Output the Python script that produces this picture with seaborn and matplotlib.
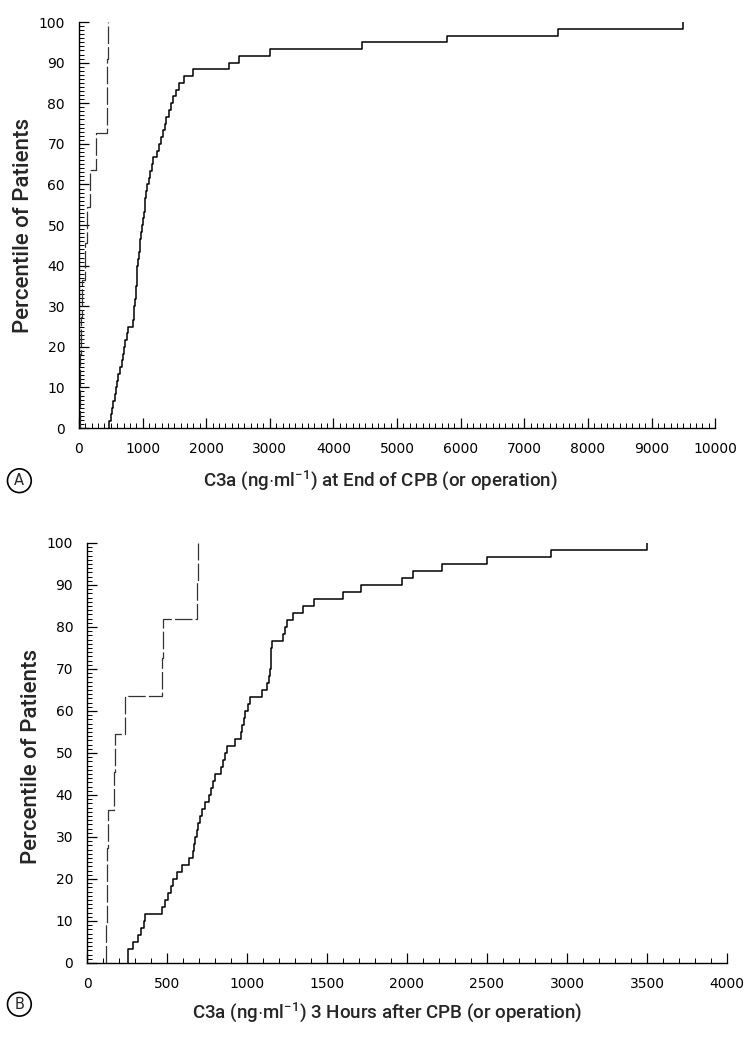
import matplotlib
matplotlib.use("Agg")
import matplotlib.pyplot as plt
from matplotlib.ticker import MultipleLocator
import seaborn as sns

# ---------------- data (C3a, ng/ml, one value per patient) ----------------
# Panel A: at end of CPB (or operation)
a_control = [10, 22, 35, 48, 94, 125, 180, 275, 435, 448, 456]
a_cpb = [470, 500, 520, 540, 560, 575, 600, 620, 645, 670,
         690, 710, 730, 750, 770, 850, 860, 870, 880, 890,
         900, 905, 910, 915, 930, 945, 955, 965, 975, 990,
         1000, 1015, 1030, 1045, 1060, 1075, 1095, 1120, 1150, 1170,
         1220, 1260, 1290, 1320, 1350, 1375, 1410, 1440, 1480, 1520,
         1570, 1650, 1790, 2360, 2520, 3000, 4450, 5790, 7530, 9500]

# Panel B: 3 hours after CPB (or operation)
b_control = [120, 123, 126, 130, 168, 172, 235, 468, 472, 688, 692]
b_cpb = [254, 256, 290, 320, 340, 355, 363, 470, 485, 505,
         525, 540, 565, 595, 640, 660, 670, 678, 685, 695,
         705, 720, 735, 760, 775, 790, 800, 840, 850, 860,
         873, 925, 960, 970, 980, 990, 1005, 1019, 1095, 1123,
         1140, 1145, 1148, 1150, 1152, 1155, 1225, 1240, 1250, 1290,
         1350, 1420, 1600, 1710, 1970, 2040, 2220, 2500, 2900, 3500]

a_xticks = [0, 1000, 2000, 3000, 4000, 5000, 6000, 7000, 8000, 9000, 10000]
b_xticks = [0, 500, 1000, 1500, 2000, 2500, 3000, 3500, 4000]
y_ticks = [0, 10, 20, 30, 40, 50, 60, 70, 80, 90, 100]

ylabel = "Percentile of Patients"
a_xlabel = r"C3a (ng$\cdot$ml$^{-1}$) at End of CPB (or operation)"
b_xlabel = r"C3a (ng$\cdot$ml$^{-1}$) 3 Hours after CPB (or operation)"

# ---------------- style ----------------
sns.set_style("ticks")
plt.rcParams["font.family"] = ["Roboto", "Liberation Sans", "DejaVu Sans"]
plt.rcParams["mathtext.fontset"] = "custom"
plt.rcParams["mathtext.rm"] = "Roboto:medium"
plt.rcParams["mathtext.it"] = "Roboto:italic"
plt.rcParams["mathtext.bf"] = "Roboto:bold"

fig = plt.figure(figsize=(7.45, 10.45), dpi=100)
axA = fig.add_axes([0.106, 0.5904, 0.854, 0.3885])
axB = fig.add_axes([0.1168, 0.0785, 0.859, 0.4019])


def style_axis(ax, xticks, xminor, xmax):
    ax.set_xlim(0, xmax)
    ax.set_ylim(0, 100)
    for s in ["top", "right"]:
        ax.spines[s].set_visible(False)
    for s in ["left", "bottom"]:
        ax.spines[s].set_linewidth(1.0)
        ax.spines[s].set_color("black")
    ax.set_xticks(xticks)
    ax.set_xticklabels([str(t) for t in xticks])
    ax.set_yticks(y_ticks)
    ax.set_yticklabels([str(t) for t in y_ticks])
    ax.xaxis.set_minor_locator(MultipleLocator(xminor))
    ax.yaxis.set_minor_locator(MultipleLocator(1))
    ax.tick_params(which="major", direction="in", length=7, width=0.9,
                   labelsize=10, pad=10, colors="black",
                   labelcolor="black")
    ax.tick_params(which="minor", direction="in", length=3.5, width=0.7,
                   colors="black")
    for lab in ax.get_xticklabels() + ax.get_yticklabels():
        lab.set_family("DejaVu Sans")
        lab.set_color("black")
    ax.set_xlabel("")
    ax.set_ylabel("")
    ax.grid(False)


for ax, ctrl, cpb in [(axA, a_control, a_cpb), (axB, b_control, b_cpb)]:
    sns.ecdfplot(x=cpb, stat="percent", ax=ax, color="black", linewidth=1.1)
    sns.ecdfplot(x=ctrl, stat="percent", ax=ax, color="#333333",
                 linewidth=0.9, linestyle=(0, (14, 2.5)))

style_axis(axA, a_xticks, 100, 10000)
style_axis(axB, b_xticks, 100, 4000)

# axis titles (placed as figure text to follow the reference layout)
fig.text(0.032, 0.784, ylabel, rotation=90, ha="center", va="center",
         fontsize=16, fontweight="medium")
fig.text(0.042, 0.276, ylabel, rotation=90, ha="center", va="center",
         fontsize=16, fontweight="medium")
fig.text(0.51, 0.54, a_xlabel, ha="center", va="center", fontsize=13.5,
         fontweight="medium")
fig.text(0.52, 0.031, b_xlabel, ha="center", va="center", fontsize=13.5,
         fontweight="medium")

circ = dict(boxstyle="circle,pad=0.3", fc="white", ec="black", lw=1.2)
fig.text(0.026, 0.54, "A", ha="center", va="center", fontsize=10.5,
         family="DejaVu Sans", bbox=circ)
fig.text(0.026, 0.039, "B", ha="center", va="center", fontsize=10.5,
         family="DejaVu Sans", bbox=circ)

fig.savefig("out.png", dpi=100, facecolor="white")
